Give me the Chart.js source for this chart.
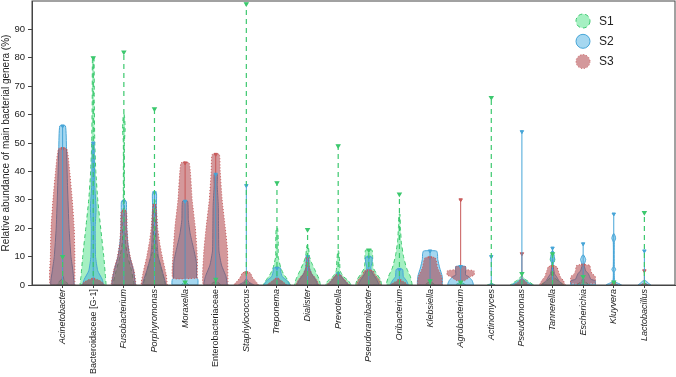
<!DOCTYPE html>
<html>
<head>
<meta charset="utf-8">
<script src="https://cdn.jsdelivr.net/npm/chart.js@4.4.1/dist/chart.umd.min.js"></script>
<style>
  body { margin: 0; background: #fff; }
</style>
</head>
<body>
<canvas id="myChart" width="676" height="377"></canvas>
<script>
  // genera on the x axis
  const genera = ['Acinetobacter', 'Bacteroidaceae [G-1]', 'Fusobacterium', 'Porphyromonas', 'Moraxella',
    'Enterobacteriaceae', 'Staphylococcus', 'Treponema', 'Dialister', 'Prevotella', 'Pseudoramibacter',
    'Oribacterium', 'Klebsiella', 'Agrobacterium', 'Actinomyces', 'Pseudomonas', 'Tannerella',
    'Escherichia', 'Kluyvera', 'Lactobacillus']
  const notItalic = ['Bacteroidaceae [G-1]', 'Enterobacteriaceae']
  const seriesNames = ['S1', 'S2', 'S3']
  const yTicks = [0, 10, 20, 30, 40, 50, 60, 70, 80, 90]

  // violin outlines per genus: [abundance %, relative density]
  const s1Shape = [
    [[0,0.45],[1,0.3],[2,0.1],[3,0.04]],
    [[0,1],[3,0.95],[10,0.82],[20,0.58],[30,0.35],[40,0.2],[50,0.12],[65,0.08],[80,0.06]],
    [[0,0.8],[5,0.6],[10,0.3],[15,0.12],[25,0.05],[50,0.04],[55,0.1],[60,0.04]],
    [[0,0.85],[3,0.7],[8,0.4],[12,0.15],[20,0.06],[30,0.04]],
    [[0,0.3],[0.8,0.1]],
    [[0,0.4],[1,0.15]],
    [[0,0.5],[0.6,0.2],[1.2,0.05]],
    [[0,1.05],[2,0.8],[4,0.5],[6,0.3],[10,0.1],[16,0.1],[20,0.05]],
    [[0,1],[2,0.9],[5,0.6],[8,0.3],[10,0.15],[14,0.05]],
    [[0,1],[1.5,0.8],[3,0.4],[5,0.15],[8,0.12],[10,0.08],[12,0.03]],
    [[0,1],[2,0.9],[4,0.6],[6,0.35],[8,0.3],[10,0.3],[12.3,0.25]],
    [[0,1],[3,0.85],[6,0.55],[10,0.32],[15,0.15],[20,0.08],[25,0.04]],
    [[0,0.4],[1,0.1]],
    [[0,0.4],[0.8,0.1]],
    [[0,0.3],[0.5,0.05]],
    [[0,0.9],[1,0.6],[2,0.25],[3,0.08]],
    [[0,0.9],[1,0.6],[2,0.3],[3,0.1],[7,0.05],[9,0.18],[11,0.05]],
    [[0,0.5],[1,0.2],[2,0.05]],
    [[0,0.3],[0.5,0.1]],
    [[0,0.3],[0.5,0.1]]
  ]
  const s2Shape = [
    [[0,0.9],[5,0.8],[10,0.65],[20,0.5],[35,0.38],[48,0.3],[56,0.22]],
    [[0,0.8],[2,0.7],[5,0.35],[10,0.18],[20,0.15],[27,0.22],[35,0.12],[50,0.06]],
    [[0,0.9],[5,0.75],[10,0.45],[15,0.3],[20,0.22],[26,0.2],[29.5,0.18]],
    [[0,0.9],[5,0.6],[10,0.3],[15,0.2],[28,0.15],[32.5,0.15]],
    [[0,1],[2,1],[2.4,0.9],[8,0.88],[12,0.7],[18,0.4],[23,0.25],[29.5,0.2]],
    [[0,0.9],[3,0.8],[7,0.45],[12,0.25],[20,0.22],[28,0.2],[35,0.12],[39,0.12]],
    [[0,0.6],[1,0.2],[2,0.05]],
    [[0,1],[1.5,0.8],[3,0.4],[5,0.28],[6,0.28]],
    [[0,0.8],[2,0.6],[4,0.3],[6,0.15],[8,0.12],[10,0.1]],
    [[0,0.8],[1.5,0.5],[3,0.25],[4,0.1]],
    [[0,0.8],[2,0.6],[4,0.3],[6,0.15],[8,0.25],[9.8,0.25]],
    [[0,0.7],[1.5,0.55],[3,0.3],[5.5,0.25]],
    [[0,0.95],[3,0.95],[6,0.75],[9,0.6],[11,0.58],[12,0.5]],
    [[0,1],[1.5,0.9],[3,0.6],[3.5,0.38],[6.5,0.38]],
    [[0,0.2],[0.5,0.05]],
    [[0,0.8],[1,0.4],[2,0.1]],
    [[0,0.8],[1.5,0.5],[3,0.3],[4,0.15],[7,0.05],[9.5,0.15],[12,0.05]],
    [[0,0.95],[1.5,0.95],[2,0.6],[3,0.5],[4,0.4],[5,0.2],[7,0.08],[9,0.2],[10.5,0.05]],
    [[0,0.6],[0.5,0.4],[1,0.15],[2,0.05],[4.5,0.04],[5.5,0.15],[6.5,0.04],[15,0.04],[16.5,0.15],[18,0.04]],
    [[0,0.5],[0.5,0.35],[1.5,0.1]]
  ]
  const s3Shape = [
    [[0,0.95],[10,0.95],[20,0.9],[30,0.75],[40,0.55],[48,0.32]],
    [[0,0.9],[1,0.7],[2,0.3]],
    [[0,0.95],[5,0.8],[10,0.5],[15,0.32],[20,0.25],[26,0.2]],
    [[0,1],[4,0.9],[10,0.6],[15,0.4],[20,0.25],[28,0.12]],
    [[2.4,0.95],[10,0.95],[20,0.8],[30,0.55],[43,0.32]],
    [[0,0.95],[12,0.92],[20,0.75],[30,0.5],[40,0.35],[46,0.28]],
    [[0,0.95],[1,0.8],[2.5,0.5],[4.3,0.3]],
    [[0,0.8],[1,0.5],[2,0.2]],
    [[0,0.9],[2,0.7],[4,0.35],[6,0.15],[9,0.08]],
    [[0,0.9],[1,0.7],[2.5,0.4],[3.5,0.2]],
    [[0,0.95],[2,0.8],[3.5,0.5],[5,0.35]],
    [[0,0.7],[1,0.4],[1.5,0.15]],
    [[0,0.95],[3,0.9],[6,0.6],[9.6,0.4]],
    [[1.5,0.3],[3,0.8],[3.5,1.05],[5,1.05],[5.5,0.4],[6.5,0.4]],
    [],
    [[0,0.6],[1,0.3],[2,0.1]],
    [[0,1],[1.5,0.85],[3,0.6],[5,0.45],[6.5,0.32]],
    [[0.5,0.95],[3,0.95],[4,0.7],[5,0.6],[7,0.5]],
    [[0,0.3],[0.5,0.1]],
    [[0,0.3],[0.5,0.1]]
  ]

  // maximum of each group (top of the range line)
  const s1Max = [10, 80, 82, 62, 1, 2, 99, 36, 19.5, 49, 12.3, 32, 1.5, 1, 66, 4, 11, 3, 1, 25.5]
  const s2Max = [56, 50, 29.5, 32.5, 29.5, 39, 35, 6, 10, 4, 9.8, 5.5, 12, 6.5, 10, 54, 13, 14.5, 25, 12]
  const s3Max = [48, 2, 26, 28, 43, 46, 4.3, 2, 9.5, 3.5, 5, 1.5, 9.6, 30, 0, 11, 6.5, 7, 0.5, 5]

  const shapes = [s1Shape, s2Shape, s3Shape]
  const maxes = [s1Max, s2Max, s3Max]
  const fills = ['rgba(40, 220, 110, 0.42)', 'rgba(40, 160, 220, 0.42)', 'rgba(170, 50, 55, 0.5)']
  const lines = ['rgb(60, 200, 110)', 'rgb(70, 165, 215)', 'rgb(200, 90, 90)']
  const dashes = [[4, 3], [], [1, 2]]
  const halfWidth = 0.42

  function violin(profile, i) {
    let right = profile.map(p => ({ x: i + p[1] * halfWidth, y: p[0] }))
    let left = profile.slice().reverse().map(p => ({ x: i - p[1] * halfWidth, y: p[0] }))
    let pts = right.concat(left)
    if (pts.length) pts.push(pts[0])
    return pts
  }

  let datasets = []
  for (let s = 0; s < 3; s++) {
    genera.forEach((g, i) => {
      if (!shapes[s][i].length) return
      datasets.push({
        label: seriesNames[s],
        data: violin(shapes[s][i], i),
        showLine: true,
        fill: 'shape',
        backgroundColor: fills[s],
        borderColor: lines[s],
        borderWidth: 1,
        borderDash: dashes[s],
        pointRadius: 0,
        tension: 0.15,
        order: 10 - s
      })
    })
  }
  for (let s = 0; s < 3; s++) {
    genera.forEach((g, i) => {
      if (!maxes[s][i]) return
      let start = shapes[s][i].length ? shapes[s][i][0][0] : 0
      datasets.push({
        label: seriesNames[s] + ' range',
        data: [{ x: i, y: start }, { x: i, y: maxes[s][i] }],
        showLine: true,
        fill: false,
        borderColor: lines[s],
        backgroundColor: lines[s],
        borderWidth: s == 0 ? 1.2 : 1,
        borderDash: s == 0 ? [5, 4] : [],
        pointRadius: [0, 2],
        pointStyle: 'triangle',
        rotation: 180,
        order: 1
      })
    })
  }

  // stretch the plot area up to the frame (no room kept for the top tick label)
  const fitArea = {
    id: 'fitArea',
    afterLayout(chart) {
      const a = chart.chartArea, x = chart.scales.x, y = chart.scales.y
      a.top = 1
      a.right = chart.width - 1
      a.width = a.right - a.left
      a.height = a.bottom - a.top
      y.top = a.top
      y.height = a.bottom - a.top
      x.right = a.right
      x.width = a.right - a.left
      x.configure()
      y.configure()
    }
  }

  const frameAndLegend = {
    id: 'frameAndLegend',
    afterDraw(chart) {
      const { ctx, chartArea: a } = chart
      ctx.save()
      ctx.strokeStyle = '#444'
      ctx.lineWidth = 1
      ctx.strokeRect(a.left, a.top, a.right - a.left, a.bottom - a.top)
      seriesNames.forEach((name, s) => {
        let cx = a.right - 92, cy = a.top + 20 + s * 20.3
        ctx.beginPath()
        ctx.arc(cx, cy, 7, 0, Math.PI * 2)
        ctx.fillStyle = fills[s]
        ctx.fill()
        ctx.setLineDash(dashes[s])
        ctx.strokeStyle = lines[s]
        ctx.stroke()
        ctx.setLineDash([])
        ctx.fillStyle = '#222'
        ctx.font = '12px "Liberation Sans", Arial, sans-serif'
        ctx.textBaseline = 'middle'
        ctx.fillText(name, cx + 16, cy + 0.5)
      })
      ctx.restore()
    }
  }

  Chart.defaults.font.family = '"Liberation Sans", Arial, sans-serif'
  Chart.defaults.color = '#222'

  new Chart(document.getElementById('myChart'), {
    type: 'scatter',
    data: { datasets: datasets },
    plugins: [fitArea, frameAndLegend],
    options: {
      responsive: false,
      animation: false,
      layout: { padding: { top: 1, right: 1, left: 0, bottom: 0 } },
      plugins: { legend: { display: false }, tooltip: { enabled: false } },
      scales: {
        x: {
          type: 'linear',
          min: -1,
          max: 20,
          afterBuildTicks: s => { s.ticks = genera.map((g, i) => ({ value: i })) },
          afterFit: s => { s.height = 92 },
          grid: { drawOnChartArea: false, tickLength: 3, color: '#444' },
          border: { color: '#444' },
          ticks: {
            autoSkip: false,
            minRotation: 90,
            maxRotation: 90,
            padding: 1,
            callback: v => genera[v],
            font: c => ({ size: 9, style: notItalic.includes(genera[c.index]) ? 'normal' : 'italic' })
          }
        },
        y: {
          min: 0,
          max: 100,
          afterBuildTicks: s => { s.ticks = yTicks.map(v => ({ value: v })) },
          afterFit: s => { s.width = 32 },
          grid: { drawOnChartArea: false, tickLength: 4, color: '#444' },
          border: { color: '#444' },
          ticks: { padding: 3, font: { size: 9.5 } },
          title: {
            display: true,
            text: 'Relative abundance of main bacterial genera (%)',
            font: { size: 10 },
            padding: { top: 0, bottom: 1 }
          }
        }
      }
    }
  })
</script>
</body>
</html>
